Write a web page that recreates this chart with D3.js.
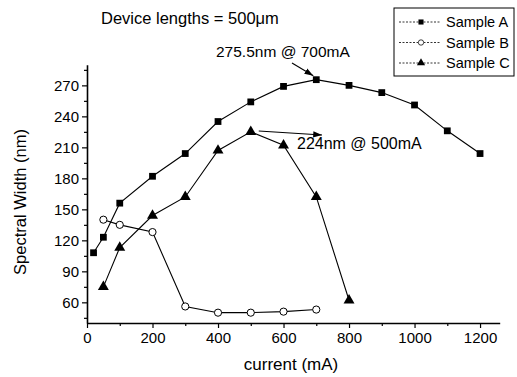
<!DOCTYPE html>
<html>
<head>
<meta charset="utf-8">
<script src="https://cdn.jsdelivr.net/npm/d3@7"></script>
<style>
  body { margin: 0; background: #fff; }
  text { font-family: "Liberation Sans", Arial, sans-serif; fill: #000; }
</style>
</head>
<body>
<svg id="chart" width="517" height="377"></svg>
<script>
// data
const currentA = [20, 50, 100, 200, 300, 400, 500, 600, 700, 800, 900, 1000, 1100, 1200];
const widthA   = [108, 123, 156, 182, 204, 235, 254, 269, 275.5, 270, 263, 251, 226, 204];
const currentB = [50, 100, 200, 300, 400, 500, 600, 700];
const widthB   = [140, 135, 128, 56, 50, 50, 51, 53];
const currentC = [50, 100, 200, 300, 400, 500, 600, 700, 800];
const widthC   = [75, 113, 144, 162, 207, 225, 212, 162, 62];
const seriesNames = ['Sample A', 'Sample B', 'Sample C'];
const xTicks = [0, 200, 400, 600, 800, 1000, 1200];
const yTicks = [60, 90, 120, 150, 180, 210, 240, 270];

const svg = d3.select('#chart');

const x = d3.scaleLinear().domain([0, 1260]).range([87, 499.7]);
const y = d3.scaleLinear().domain([40, 290]).range([323, 64.7]);

// minor ticks
const xMinor = d3.range(100, 1260, 200);
const yMinor = d3.range(45, 290, 30);

svg.append('g')
  .attr('transform', 'translate(0,' + y(40) + ')')
  .call(d3.axisBottom(x).tickValues(xMinor).tickSize(3).tickFormat(''))
  .call(g => g.select('.domain').remove());
svg.append('g')
  .attr('transform', 'translate(' + x(0) + ',0)')
  .call(d3.axisLeft(y).tickValues(yMinor).tickSize(3).tickFormat(''))
  .call(g => g.select('.domain').remove());

// x axis
svg.append('g')
  .attr('transform', 'translate(0,' + y(40) + ')')
  .call(d3.axisBottom(x).tickValues(xTicks).tickSize(5).tickSizeOuter(0).tickPadding(4).tickFormat(d3.format('d')))
  .call(g => g.select('.domain').attr('stroke-width', 1.6))
  .selectAll('text')
    .style('font-size', '15px');

// y axis
svg.append('g')
  .attr('transform', 'translate(' + x(0) + ',0)')
  .call(d3.axisLeft(y).tickValues(yTicks).tickSize(5).tickSizeOuter(0).tickPadding(3))
  .call(g => g.select('.domain').attr('stroke-width', 1.6))
  .selectAll('text')
    .style('font-size', '15px');

svg.selectAll('.tick line').attr('stroke-width', 1.2);

// axis titles
svg.append('text')
  .attr('x', 291).attr('y', 370)
  .attr('text-anchor', 'middle')
  .style('font-size', '17px')
  .text('current (mA)');

svg.append('text')
  .attr('transform', 'translate(26,' + 202 + ') rotate(-90)')
  .attr('text-anchor', 'middle')
  .style('font-size', '16.5px')
  .text('Spectral Width (nm)');

// title
svg.append('text')
  .attr('x', 101).attr('y', 24)
  .style('font-size', '16.5px')
  .text('Device lengths = 500\u03bcm');

// markers
const square = d3.symbol().type(d3.symbolSquare).size(46);
const triangle = d3.symbol().type(d3.symbolTriangle).size(52);

function drawMarker(g, type) {
  if (type === 'square') {
    g.append('path').attr('d', square).attr('fill', '#000');
  } else if (type === 'circle') {
    g.append('circle').attr('r', 3.6).attr('fill', '#fff').attr('stroke', '#000').attr('stroke-width', 1);
  } else {
    g.append('path').attr('d', triangle).attr('fill', '#000');
  }
}

const line = d3.line().x(d => x(d[0])).y(d => y(d[1]));
const series = [
  { xs: currentA, ys: widthA, marker: 'square' },
  { xs: currentB, ys: widthB, marker: 'circle' },
  { xs: currentC, ys: widthC, marker: 'triangle' }
];

series.forEach(s => {
  const pts = s.xs.map((v, i) => [v, s.ys[i]]);
  svg.append('path')
    .datum(pts)
    .attr('d', line)
    .attr('fill', 'none')
    .attr('stroke', '#000')
    .attr('stroke-width', 1.1);
  svg.append('g').selectAll('g')
    .data(pts)
    .enter().append('g')
    .attr('transform', d => 'translate(' + x(d[0]) + ',' + y(d[1]) + ')')
    .each(function() { drawMarker(d3.select(this), s.marker); });
});

// annotations with arrows
svg.append('defs').append('marker')
  .attr('id', 'arrow')
  .attr('viewBox', '0 0 10 10')
  .attr('refX', 10).attr('refY', 5)
  .attr('markerWidth', 8).attr('markerHeight', 8)
  .attr('orient', 'auto')
  .append('path').attr('d', 'M0,1.5L10,5L0,8.5Z').attr('fill', '#000');

svg.append('text')
  .attr('x', 216).attr('y', 57)
  .style('font-size', '15.5px')
  .text('275.5nm @ 700mA');
svg.append('line')
  .attr('x1', 292).attr('y1', 63)
  .attr('x2', x(700) - 3).attr('y2', y(275.5) - 4)
  .attr('stroke', '#000').attr('stroke-width', 1.1)
  .attr('marker-end', 'url(#arrow)');

svg.append('text')
  .attr('x', 297).attr('y', 149)
  .style('font-size', '16px')
  .text('224nm @ 500mA');
svg.append('line')
  .attr('x1', x(500) + 8).attr('y1', 131)
  .attr('x2', 322).attr('y2', 135)
  .attr('stroke', '#000').attr('stroke-width', 1.1)
  .attr('marker-end', 'url(#arrow)');

// legend
const legend = svg.append('g');
legend.append('rect')
  .attr('x', 394).attr('y', 8)
  .attr('width', 120).attr('height', 68)
  .attr('fill', '#fff').attr('stroke', '#000').attr('stroke-width', 1);

const legendMarkers = ['square', 'circle', 'triangle'];
seriesNames.forEach((name, i) => {
  const ly = 22 + i * 20.5;
  legend.append('line')
    .attr('x1', 399).attr('x2', 441).attr('y1', ly).attr('y2', ly)
    .attr('stroke', '#000').attr('stroke-width', 0.8)
    .attr('stroke-dasharray', '2,1.5');
  const mg = legend.append('g').attr('transform', 'translate(421,' + ly + ') scale(0.75)');
  drawMarker(mg, legendMarkers[i]);
  legend.append('text')
    .attr('x', 446).attr('y', ly + 5)
    .style('font-size', '14.5px')
    .text(name);
});
</script>
</body>
</html>
